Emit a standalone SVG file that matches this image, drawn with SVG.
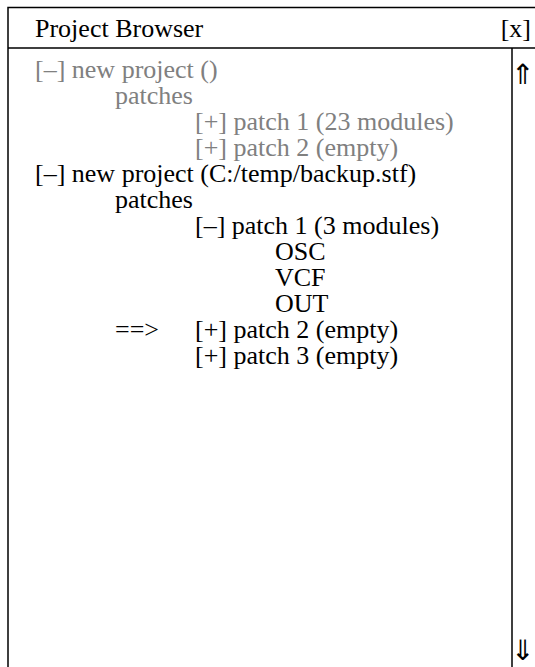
<svg xmlns="http://www.w3.org/2000/svg" width="535" height="667" viewBox="0 0 535 667">
<style>
.t{font-family:'Liberation Serif','Times New Roman','DejaVu Serif',serif;font-size:26px;fill:#000}
.g{fill:#808080}
.ln{stroke:#000;stroke-width:1.5;fill:none}
.ar{font-family:'DejaVu Sans',sans-serif;font-size:28px;fill:#000}
</style>
<rect x="0" y="0" width="535" height="667" fill="#fff"/>
<g id="frame">
<path class="ln" d="M8,667 V7.5 H535 M8,48 H535 M512,48 V667"/>
</g>
<g id="titlebar">
<text class="t" x="35" y="37">Project Browser</text>
<text class="t" x="531" y="37" text-anchor="end">[x]</text>
</g>
<g id="scrollbar">
<text class="ar" x="523" y="84" text-anchor="middle">⇑</text>
<text class="ar" x="523" y="660" text-anchor="middle">⇓</text>
</g>
<g id="project1">
<text class="t g" x="35" y="78">[–] new project ()</text>
<text class="t g" x="115" y="104">patches</text>
<text class="t g" x="195" y="130">[+] patch 1 (23 modules)</text>
<text class="t g" x="195" y="156">[+] patch 2 (empty)</text>
</g>
<g id="project2">
<text class="t" x="35" y="182">[–] new project (C:/temp/backup.stf)</text>
<text class="t" x="115" y="208">patches</text>
<text class="t" x="195" y="234">[–] patch 1 (3 modules)</text>
<text class="t" x="275" y="260">OSC</text>
<text class="t" x="275" y="286">VCF</text>
<text class="t" x="275" y="312">OUT</text>
<text class="t" x="115" y="338">==&gt;</text>
<text class="t" x="195" y="338">[+] patch 2 (empty)</text>
<text class="t" x="195" y="364">[+] patch 3 (empty)</text>
</g>
</svg>
